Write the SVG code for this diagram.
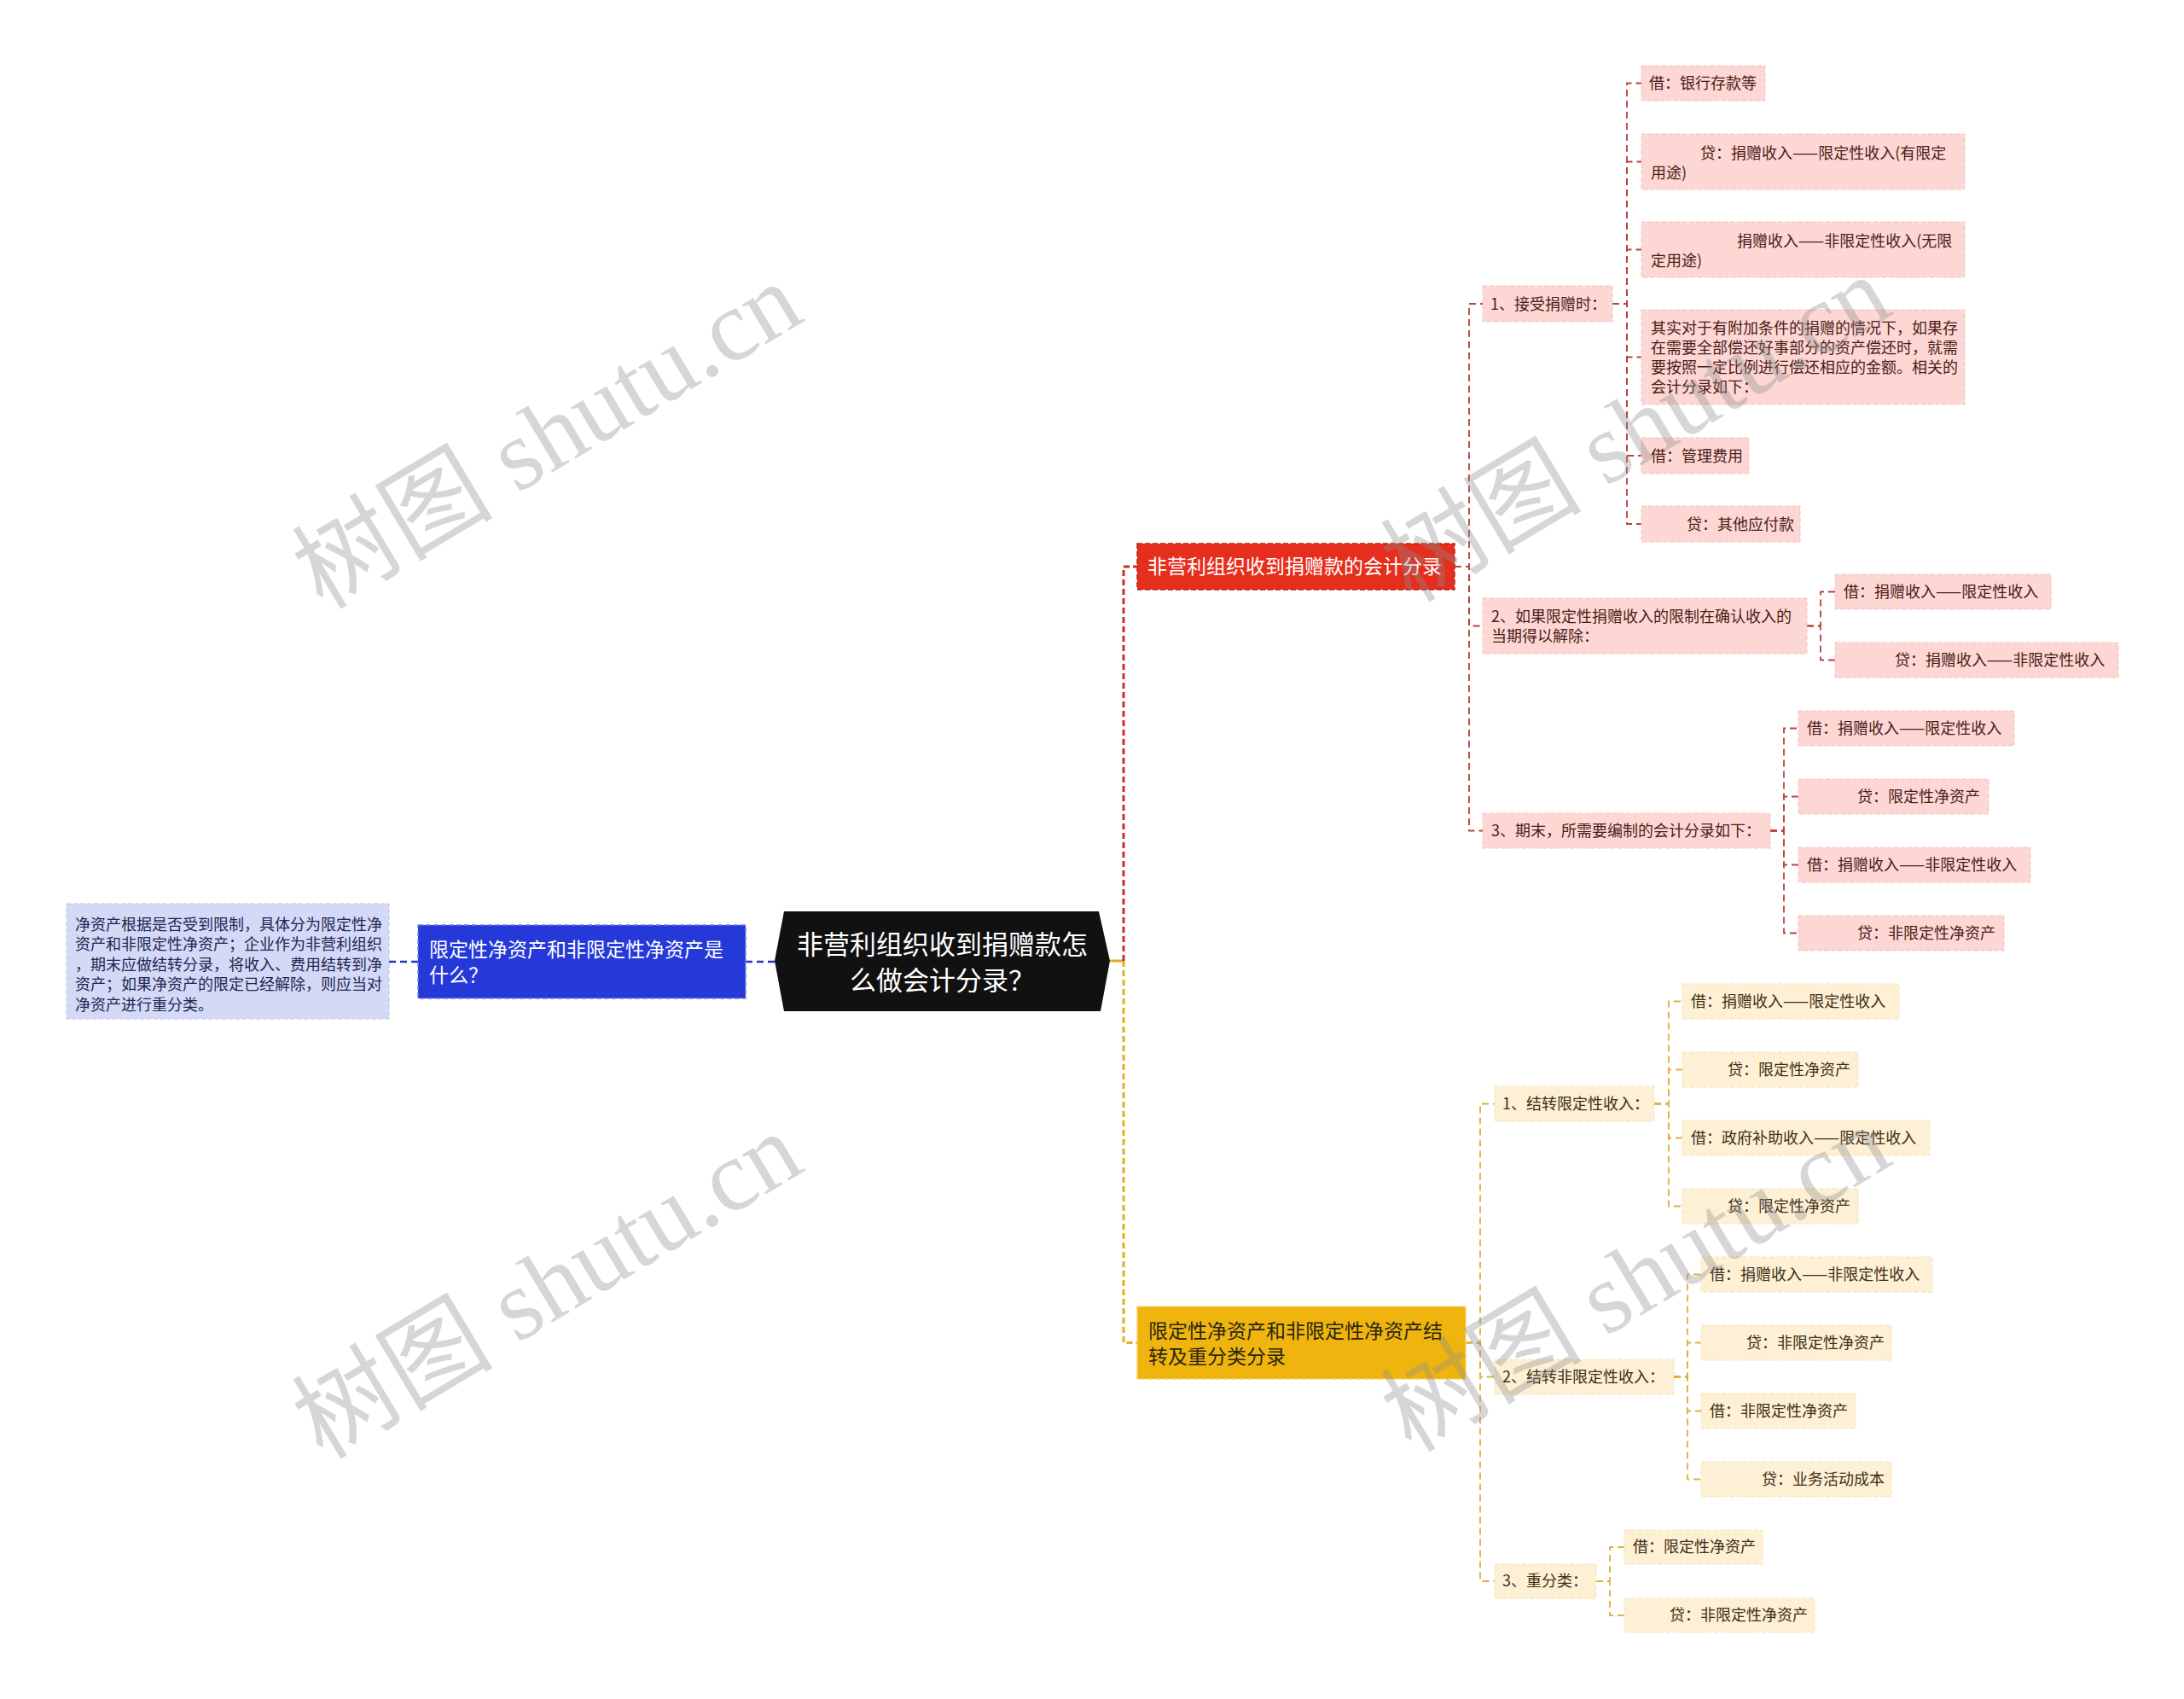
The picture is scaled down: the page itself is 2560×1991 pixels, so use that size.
<svg xmlns="http://www.w3.org/2000/svg" width="2560" height="1991" viewBox="0 0 2560 1991">
<style>
text{font-family:"Noto Sans CJK SC","Noto Sans",sans-serif}
.leafR{fill:#fcd7d3;stroke:#f4c2bd;stroke-width:1;stroke-dasharray:5 3}
.leafY{fill:#fdf0d4;stroke:#f6e2b4;stroke-width:1;stroke-dasharray:5 3}
.tR{font-size:18px;fill:#4d1b17}
.tY{font-size:18px;fill:#3d2f14}
.tB{font-size:18px;fill:#1f2652}
.t1{font-size:23px}
.cR{fill:none;stroke:#c8302b;stroke-width:3;stroke-dasharray:7 4}
.cY{fill:none;stroke:#e2ad22;stroke-width:3;stroke-dasharray:7 4}
.cR2{fill:none;stroke:#b9423d;stroke-width:1.8;stroke-dasharray:8 5}
.cY2{fill:none;stroke:#e0b03c;stroke-width:1.8;stroke-dasharray:8 5}
.cB{fill:none;stroke:#2336b8;stroke-width:2.5;stroke-dasharray:8 5}
.wm{font-family:"Liberation Serif","Noto Sans CJK SC",serif;font-size:118px;fill:#8c8c8c;opacity:0.35}
</style>
<rect width="2560" height="1991" fill="#ffffff"/>
<g id="connectors">
<line x1="1301" y1="1126" x2="1317" y2="1126" stroke="#e2ad22" stroke-width="3"/>
<path class="cR" d="M1317,1126 V664 H1333"/>
<path class="cY" d="M1317,1126 V1573.5 H1333"/>
<path class="cB" d="M908,1127 H874"/>
<path class="cB" d="M490,1127 H456"/>
<path class="cR2" d="M1705,664 H1722 V356 H1738"/>
<path class="cR2" d="M1705,664 H1722 V733.5 H1738"/>
<path class="cR2" d="M1705,664 H1722 V973.5 H1738"/>
<path class="cR2" d="M1890,356 H1907 V97.5 H1924"/>
<path class="cR2" d="M1890,356 H1907 V189.5 H1924"/>
<path class="cR2" d="M1890,356 H1907 V292.5 H1924"/>
<path class="cR2" d="M1890,356 H1907 V418.5 H1924"/>
<path class="cR2" d="M1890,356 H1907 V534 H1924"/>
<path class="cR2" d="M1890,356 H1907 V614 H1924"/>
<path class="cR2" d="M2118,733.5 H2134 V693.5 H2151"/>
<path class="cR2" d="M2118,733.5 H2134 V773.5 H2151"/>
<path class="cR2" d="M2075,973.5 H2091 V853.5 H2108"/>
<path class="cR2" d="M2075,973.5 H2091 V933.5 H2108"/>
<path class="cR2" d="M2075,973.5 H2091 V1013.5 H2108"/>
<path class="cR2" d="M2075,973.5 H2091 V1093.5 H2108"/>
<path class="cY2" d="M1718,1573.5 H1735 V1293.5 H1752"/>
<path class="cY2" d="M1718,1573.5 H1735 V1613.5 H1752"/>
<path class="cY2" d="M1718,1573.5 H1735 V1853 H1752"/>
<path class="cY2" d="M1939,1293.5 H1956 V1173.5 H1972"/>
<path class="cY2" d="M1939,1293.5 H1956 V1253.5 H1972"/>
<path class="cY2" d="M1939,1293.5 H1956 V1333.5 H1972"/>
<path class="cY2" d="M1939,1293.5 H1956 V1413.5 H1972"/>
<path class="cY2" d="M1962,1613.5 H1978 V1493.5 H1994"/>
<path class="cY2" d="M1962,1613.5 H1978 V1573.5 H1994"/>
<path class="cY2" d="M1962,1613.5 H1978 V1653.5 H1994"/>
<path class="cY2" d="M1962,1613.5 H1978 V1733.5 H1994"/>
<path class="cY2" d="M1871,1853 H1887 V1813 H1904"/>
<path class="cY2" d="M1871,1853 H1887 V1893 H1904"/>
</g>
<g id="root">
<polygon points="919,1068 1288,1068 1301,1126 1290,1185 919,1185 908,1126" fill="#111111"/>
<text x="1104.5" y="1118" font-size="31" fill="#ffffff" text-anchor="middle">非营利组织收到捐赠款怎</text>
<text x="1104.5" y="1160" font-size="31" fill="#ffffff" text-anchor="middle">么做会计分录？</text>
</g>
<g id="n-blue">
<rect x="490" y="1084" width="384" height="86" fill="#2539d9" stroke="#6f7ff0" stroke-width="1.5" stroke-dasharray="6 3"/>
<text class="t1" x="503" y="1121" fill="#ffffff">限定性净资产和非限定性净资产是</text>
<text class="t1" x="503" y="1151" fill="#ffffff">什么？</text>
</g>
<g id="n-blue-note">
<rect x="78" y="1059" width="378" height="135" fill="#d4d9f6" stroke="#bcc3ef" stroke-width="1" stroke-dasharray="5 3"/>
<text class="tB" x="88" y="1090">净资产根据是否受到限制，具体分为限定性净</text>
<text class="tB" x="88" y="1113">资产和非限定性净资产；企业作为非营利组织</text>
<text class="tB" x="88" y="1137">，期末应做结转分录，将收入、费用结转到净</text>
<text class="tB" x="88" y="1160">资产；如果净资产的限定已经解除，则应当对</text>
<text class="tB" x="88" y="1184">净资产进行重分类。</text>
</g>
<g id="n-red">
<rect x="1333" y="637" width="372" height="54" fill="#e62e1e" stroke="#b3241a" stroke-width="1.5" stroke-dasharray="6 3"/>
<text class="t1" x="1345" y="672" fill="#ffffff">非营利组织收到捐赠款的会计分录</text>
</g>
<g id="n-r1">
<rect class="leafR" x="1738" y="335" width="152" height="42"/>
<text class="tR" x="1747" y="363">1、接受捐赠时：</text>
</g>
<g id="n-r1-1">
<rect class="leafR" x="1924" y="77" width="145" height="41"/>
<text class="tR" x="1933" y="104">借：银行存款等</text>
</g>
<g id="n-r1-2">
<rect class="leafR" x="1924" y="157" width="379" height="65"/>
<text class="tR" x="1993" y="186">贷：捐赠收入——限定性收入(有限定</text>
<text class="tR" x="1935" y="209">用途)</text>
</g>
<g id="n-r1-3">
<rect class="leafR" x="1924" y="260" width="379" height="65"/>
<text class="tR" x="2036" y="289">捐赠收入——非限定性收入(无限</text>
<text class="tR" x="1935" y="312">定用途)</text>
</g>
<g id="n-r1-4">
<rect class="leafR" x="1924" y="363" width="379" height="111"/>
<text class="tR" x="1935" y="391">其实对于有附加条件的捐赠的情况下，如果存</text>
<text class="tR" x="1935" y="414">在需要全部偿还好事部分的资产偿还时，就需</text>
<text class="tR" x="1935" y="437">要按照一定比例进行偿还相应的金额。相关的</text>
<text class="tR" x="1935" y="460">会计分录如下：</text>
</g>
<g id="n-r1-5">
<rect class="leafR" x="1924" y="513" width="126" height="42"/>
<text class="tR" x="1935" y="541">借：管理费用</text>
</g>
<g id="n-r1-6">
<rect class="leafR" x="1924" y="593" width="186" height="42"/>
<text class="tR" x="1977" y="621">贷：其他应付款</text>
</g>
<g id="n-r2">
<rect class="leafR" x="1738" y="701" width="380" height="65"/>
<text class="tR" x="1748" y="729">2、如果限定性捐赠收入的限制在确认收入的</text>
<text class="tR" x="1748" y="752">当期得以解除：</text>
</g>
<g id="n-r2-1">
<rect class="leafR" x="2151" y="673" width="253" height="41"/>
<text class="tR" x="2161" y="700">借：捐赠收入——限定性收入</text>
</g>
<g id="n-r2-2">
<rect class="leafR" x="2151" y="753" width="332" height="41"/>
<text class="tR" x="2221" y="780">贷：捐赠收入——非限定性收入</text>
</g>
<g id="n-r3">
<rect class="leafR" x="1738" y="953" width="337" height="41"/>
<text class="tR" x="1748" y="980">3、期末，所需要编制的会计分录如下：</text>
</g>
<g id="n-r3-1">
<rect class="leafR" x="2108" y="833" width="253" height="41"/>
<text class="tR" x="2118" y="860">借：捐赠收入——限定性收入</text>
</g>
<g id="n-r3-2">
<rect class="leafR" x="2108" y="913" width="223" height="41"/>
<text class="tR" x="2177" y="940">贷：限定性净资产</text>
</g>
<g id="n-r3-3">
<rect class="leafR" x="2108" y="993" width="272" height="41"/>
<text class="tR" x="2118" y="1020">借：捐赠收入——非限定性收入</text>
</g>
<g id="n-r3-4">
<rect class="leafR" x="2108" y="1073" width="241" height="41"/>
<text class="tR" x="2177" y="1100">贷：非限定性净资产</text>
</g>
<g id="n-yellow">
<rect x="1333" y="1531" width="385" height="85" fill="#efb50e" stroke="#f7d463" stroke-width="1.5" stroke-dasharray="6 3"/>
<text class="t1" x="1346" y="1568" fill="#2b2410">限定性净资产和非限定性净资产结</text>
<text class="t1" x="1346" y="1598" fill="#2b2410">转及重分类分录</text>
</g>
<g id="n-y1">
<rect class="leafY" x="1752" y="1273" width="187" height="41"/>
<text class="tY" x="1761" y="1300">1、结转限定性收入：</text>
</g>
<g id="n-y1-1">
<rect class="leafY" x="1972" y="1153" width="254" height="41"/>
<text class="tY" x="1982" y="1180">借：捐赠收入——限定性收入</text>
</g>
<g id="n-y1-2">
<rect class="leafY" x="1972" y="1233" width="206" height="41"/>
<text class="tY" x="2025" y="1260">贷：限定性净资产</text>
</g>
<g id="n-y1-3">
<rect class="leafY" x="1972" y="1313" width="290" height="41"/>
<text class="tY" x="1982" y="1340">借：政府补助收入——限定性收入</text>
</g>
<g id="n-y1-4">
<rect class="leafY" x="1972" y="1393" width="206" height="41"/>
<text class="tY" x="2025" y="1420">贷：限定性净资产</text>
</g>
<g id="n-y2">
<rect class="leafY" x="1752" y="1593" width="210" height="41"/>
<text class="tY" x="1761" y="1620">2、结转非限定性收入：</text>
</g>
<g id="n-y2-1">
<rect class="leafY" x="1994" y="1473" width="271" height="41"/>
<text class="tY" x="2004" y="1500">借：捐赠收入——非限定性收入</text>
</g>
<g id="n-y2-2">
<rect class="leafY" x="1994" y="1553" width="223" height="41"/>
<text class="tY" x="2047" y="1580">贷：非限定性净资产</text>
</g>
<g id="n-y2-3">
<rect class="leafY" x="1994" y="1633" width="181" height="41"/>
<text class="tY" x="2004" y="1660">借：非限定性净资产</text>
</g>
<g id="n-y2-4">
<rect class="leafY" x="1994" y="1713" width="223" height="41"/>
<text class="tY" x="2065" y="1740">贷：业务活动成本</text>
</g>
<g id="n-y3">
<rect class="leafY" x="1752" y="1833" width="119" height="40"/>
<text class="tY" x="1761" y="1859">3、重分类：</text>
</g>
<g id="n-y3-1">
<rect class="leafY" x="1904" y="1793" width="162" height="40"/>
<text class="tY" x="1914" y="1819">借：限定性净资产</text>
</g>
<g id="n-y3-2">
<rect class="leafY" x="1904" y="1873" width="223" height="40"/>
<text class="tY" x="1957" y="1899">贷：非限定性净资产</text>
</g>
<g id="watermarks">
<text class="wm" x="662" y="545" text-anchor="middle" transform="rotate(-31 662 545)">树图 shutu.cn</text>
<text class="wm" x="662" y="1541" text-anchor="middle" transform="rotate(-31 662 1541)">树图 shutu.cn</text>
<text class="wm" x="1938" y="537" text-anchor="middle" transform="rotate(-31 1938 537)">树图 shutu.cn</text>
<text class="wm" x="1938" y="1533" text-anchor="middle" transform="rotate(-31 1938 1533)">树图 shutu.cn</text>
</g>
</svg>
